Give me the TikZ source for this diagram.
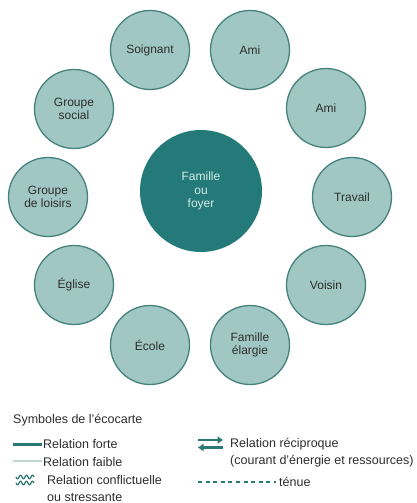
\documentclass[tikz,border=0pt]{standalone}
\usepackage{fontspec}
\setmainfont{Liberation Sans}
\usetikzlibrary{arrows.meta}
\definecolor{ringfill}{RGB}{161,199,196}
\definecolor{ringedge}{RGB}{70,130,124}
\definecolor{hubfill}{RGB}{36,122,120}
\definecolor{hubtext}{RGB}{210,234,231}
\definecolor{inktext}{RGB}{45,45,45}
\definecolor{strong}{RGB}{42,122,115}
\definecolor{weak}{RGB}{196,214,211}
\begin{document}
\begin{tikzpicture}[x=1pt,y=-1pt,
  every node/.style={font=\fontsize{12}{13.5}\selectfont, text=inktext},
  sys/.style={circle, minimum size=79pt, inner sep=0pt, fill=ringfill,
    draw=ringedge, line width=1.3pt, align=center},
  hub/.style={circle, minimum size=122pt, inner sep=0pt, fill=hubfill,
    text=hubtext, align=center},
  legtext/.style={anchor=base west, inner sep=0pt,
    font=\fontsize{12.5}{14}\selectfont},
  symline/.style={line width=1.2pt}]
\useasboundingbox (0,0) rectangle (416,503);

% family at the centre
\node[hub] (hub) at (201,191) {Famille\\ou\\foyer};

% surrounding systems
\node[sys] (soignant) at (150,50)  {Soignant};
\node[sys] (ami)      at (250,50)  {Ami};
\node[sys] (amib)     at (326,108) {Ami};
\node[sys] (travail)  at (352,197) {Travail};
\node[sys] (voisin)   at (326,285) {Voisin};
\node[sys] (famel)    at (250,345) {Famille\\élargie};
\node[sys] (ecole)    at (150,345) {École};
\node[sys] (eglise)   at (74,285)  {Église};
\node[sys] (loisirs)  at (48,197)  {Groupe\\de loisirs};
\node[sys] (social)   at (74,109)  {Groupe\\social};

% legend
\node[legtext] (legtitle) at (13,423.5) {Symboles de l'écocarte};

\draw[strong, line width=3pt] (13,444) -- (42,444);
\node[legtext] (lforte) at (43,448.5) {Relation forte};

\draw[weak, symline] (13,461) -- (42,461);
\node[legtext] (lfaible) at (43,466.5) {Relation faible};

\draw[strong, symline, domain=16:34, samples=60, smooth]
  plot (\x, {477 + 1.8*sin(360*(\x-16)/6)});
\draw[strong, symline, domain=16:34, samples=60, smooth]
  plot (\x, {483 + 1.8*sin(360*(\x-16)/6)});
\node[legtext] (lconflit) at (47,484.5) {Relation conflictuelle};
\node[legtext] (lstress) at (47,501.3) {ou stressante};

\draw[strong, line width=2.2pt, -{Triangle[length=5.5pt,width=7pt]}] (198,440) -- (223,440);
\draw[strong, line width=2.2pt, -{Triangle[length=5.5pt,width=7pt]}] (223,447.5) -- (198,447.5);
\node[legtext] (lrecip) at (230,447.5) {Relation réciproque};
\node[legtext] (lcourant) at (230,464.5) {(courant d'énergie et ressources)};

\draw[strong, symline, dash pattern=on 4pt off 3.6pt] (198,482) -- (276,482);
\node[legtext] (ltenue) at (279,486.5) {ténue};
\end{tikzpicture}
\end{document}
